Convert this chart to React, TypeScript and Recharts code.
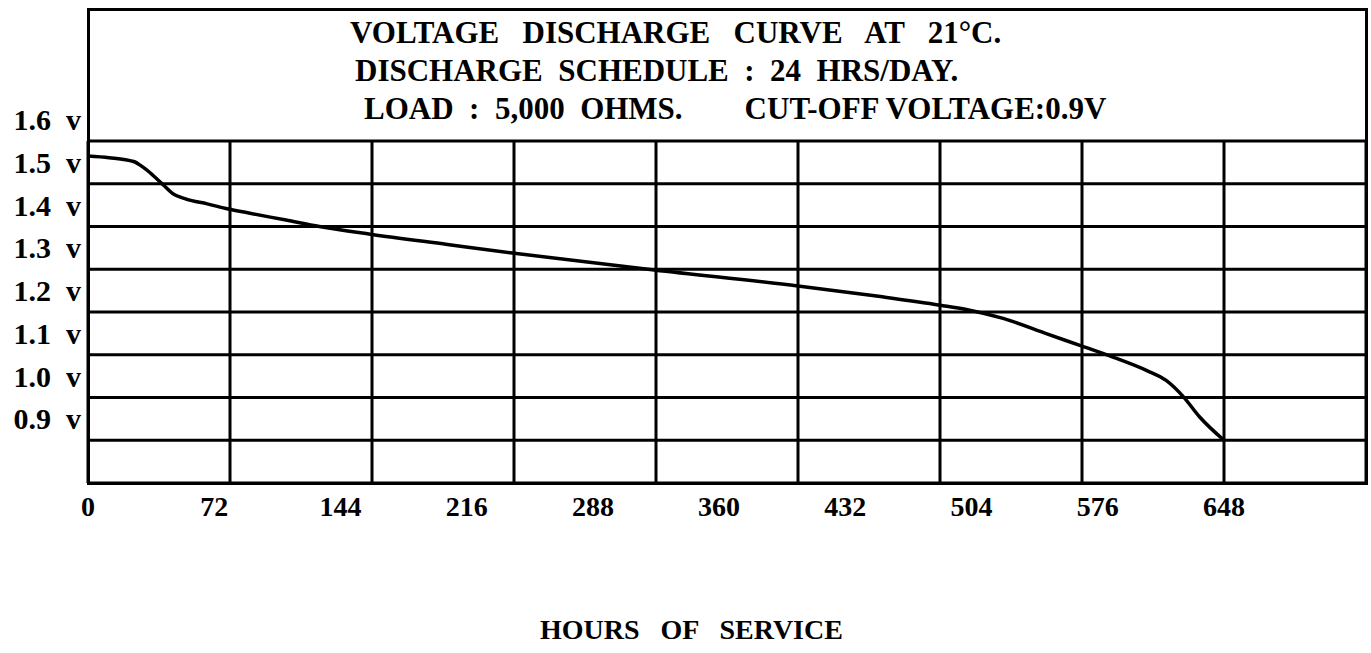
import { CartesianGrid, Line, LineChart, XAxis, YAxis } from "recharts";

// hours of service vs cell voltage
const hours = [0, 12, 26, 31, 37, 43, 48, 56, 68, 80, 91, 113, 132, 161, 205, 242, 323, 405, 452, 486, 501, 522, 547, 567, 585, 604, 615, 625, 634, 648];
const volts = [1.565, 1.561, 1.552, 1.54, 1.52, 1.497, 1.478, 1.464, 1.453, 1.441, 1.432, 1.415, 1.4, 1.382, 1.358, 1.338, 1.298, 1.261, 1.236, 1.216, 1.206, 1.185, 1.149, 1.12, 1.094, 1.063, 1.04, 1.001, 0.955, 0.9];

const hourTicks = [0, 72, 144, 216, 288, 360, 432, 504, 576, 648];
const gridHours = [81, 162, 243, 324, 405, 486, 567, 648];
const voltTicks = [0.9, 1.0, 1.1, 1.2, 1.3, 1.4, 1.5, 1.6];

const titleLines = [
  "VOLTAGE   DISCHARGE   CURVE   AT   21°C.",
  "DISCHARGE  SCHEDULE  :  24  HRS/DAY.",
  "LOAD  :  5,000  OHMS.        CUT-OFF VOLTAGE:0.9V",
];
const xTitle = "HOURS   OF   SERVICE";

const data = hours.map((h, i) => ({ h, v: volts[i] }));

const font = "'Liberation Serif', 'Times New Roman', serif";

const VoltTick = ({ x, y, payload }: any) => (
  <text x={x} y={y} dx={-7} dy={-11} textAnchor="end" fontFamily={font} fontWeight="bold" fontSize={30} fill="#000" style={{ whiteSpace: "pre" }}>
    {payload.value.toFixed(1) + "  v"}
  </text>
);

const HourTick = ({ x, y, payload }: any) => (
  <text x={x} y={y} dy={33} textAnchor="middle" fontFamily={font} fontWeight="bold" fontSize={28} fill="#000">
    {payload.value}
  </text>
);

export default function App() {
  return (
    <div style={{ position: "absolute", left: 0, top: 0, width: 1371, height: 653, background: "#fff" }}>
      <div
        style={{
          position: "absolute",
          left: 87,
          top: 8,
          width: 1281,
          height: 477,
          border: "3px solid #000",
          boxSizing: "border-box",
        }}
      />
      <LineChart
        width={1371}
        height={653}
        data={data}
        margin={{ top: 141, right: 5, bottom: 140, left: 8 }}
        style={{ position: "absolute", left: 0, top: 0 }}
      >
        <CartesianGrid stroke="#000" strokeWidth={3} xAxisId="grid" />
        <XAxis dataKey="h" type="number" domain={[0, 729]} ticks={hourTicks} tick={<HourTick />} axisLine={false} tickLine={false} tickSize={0} tickMargin={0} height={30} interval={0} />
        <XAxis xAxisId="grid" dataKey="h" type="number" domain={[0, 729]} ticks={gridHours} hide />
        <YAxis type="number" domain={[0.8, 1.6]} ticks={voltTicks} tick={<VoltTick />} axisLine={false} tickLine={false} tickSize={0} tickMargin={0} width={80} interval={0} />
        <Line type="monotone" dataKey="v" stroke="#000" strokeWidth={3.5} dot={false} isAnimationActive={false} />
      </LineChart>
      <svg width={1371} height={653} style={{ position: "absolute", left: 0, top: 0, pointerEvents: "none" }}>
        {titleLines.map((t, i) => (
          <text key={i} x={[350, 355, 364][i]} y={43 + i * 38} fontFamily={font} fontWeight="bold" fontSize={31} fill="#000" style={{ whiteSpace: "pre" }}>
            {t}
          </text>
        ))}
        <text x={540} y={639} fontFamily={font} fontWeight="bold" fontSize={28} fill="#000" style={{ whiteSpace: "pre" }}>
          {xTitle}
        </text>
      </svg>
    </div>
  );
}
